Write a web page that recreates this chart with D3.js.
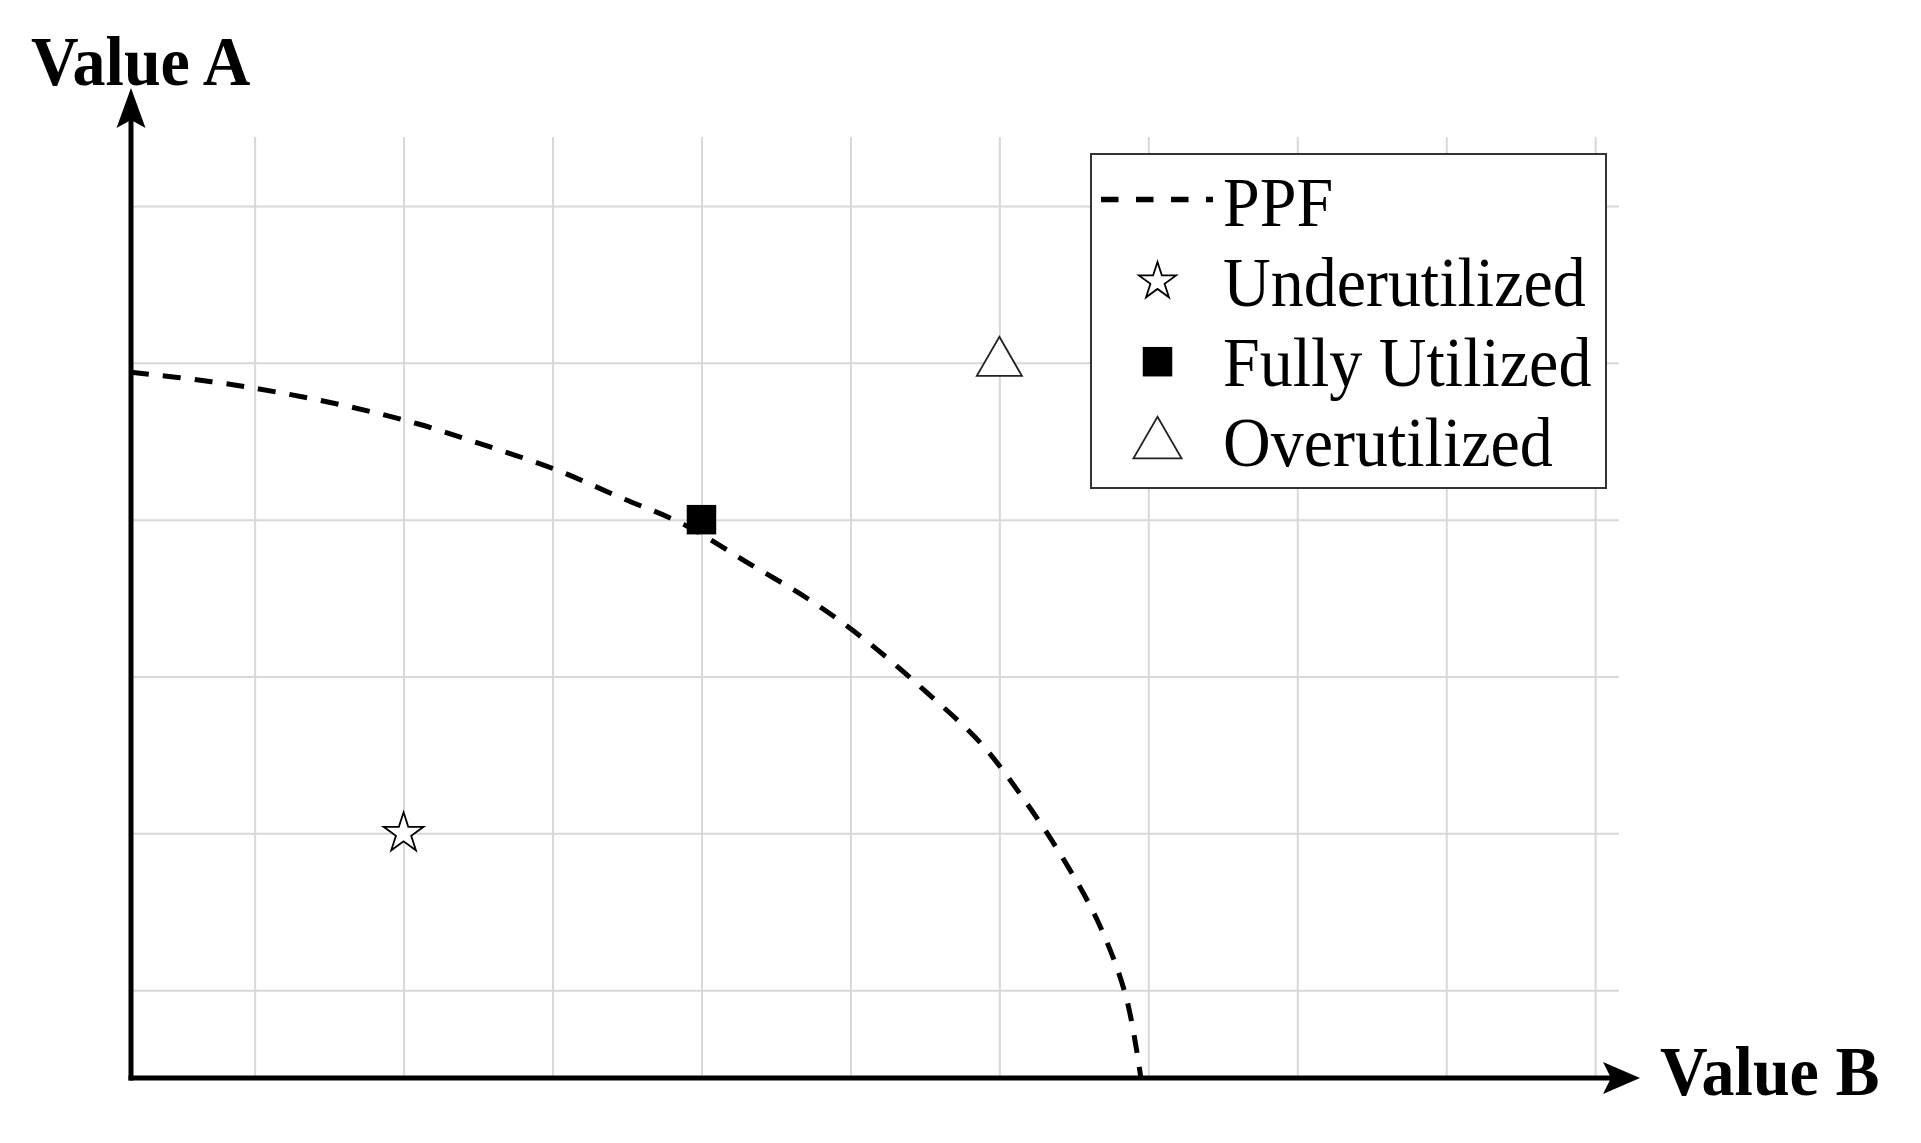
<html>

<head>
  <meta charset="utf-8">
  <script src="https://cdn.jsdelivr.net/npm/d3@7/dist/d3.min.js"></script>
  <title> PPF chart </title>
  <style>
  body {
    margin: 0;
    background-color: #fff;
  }
  svg {
    display: block;
    background-color: #fff;
  }
  text {
    font-family: "Liberation Serif", "Times New Roman", serif;
    fill: #000;
  }
  </style>
</head>

<body>
  <div id="chart"></div>
  <script>

  // background grid lines (grid units)
  var xTicks = [1, 2, 3, 4, 5, 6, 7, 8, 9, 10];
  var yTicks = [1, 2, 3, 4, 5, 6];

  // PPF curve (Value B, Value A)
  var ppfB = [0.17, 0.71, 1.17, 1.64, 2.10, 2.56, 3.02, 3.46, 3.88, 4.32, 4.74, 5.13, 5.51, 5.87, 6.17, 6.44, 6.67, 6.85, 6.95];
  var ppfA = [4.94, 4.88, 4.81, 4.72, 4.61, 4.47, 4.32, 4.14, 3.97, 3.72, 3.48, 3.21, 2.90, 2.58, 2.21, 1.82, 1.42, 0.96, 0.44];

  // the three marked points
  var pointNames = ["Underutilized", "Fully Utilized", "Overutilized"];
  var pointB = [2, 4, 6];
  var pointA = [2, 4, 5];

  var legendLabels = ["PPF", "Underutilized", "Fully Utilized", "Overutilized"];
  var axisLabels = ["Value A", "Value B"];

  var width = 1921,
    height = 1143;

  var svg = d3.select("#chart").append("svg").attr("width", width).attr("height", height);

  var x = d3.scaleLinear().domain([0.17, 10.16]).range([131, 1619]);
  var y = d3.scaleLinear().domain([0.44, 6.44]).range([1078, 137]);

  var x0 = x(0.17), y0 = y(0.44);
  var gridRight = x(10.16), gridTop = y(6.44);

  // grid
  var gx = svg.append("g").attr("class", "grid")
    .attr("transform", "translate(0," + y0 + ")")
    .call(d3.axisBottom(x).tickValues(xTicks).tickSize(-(y0 - gridTop)).tickFormat(""));
  var gy = svg.append("g").attr("class", "grid")
    .attr("transform", "translate(" + x0 + ",0)")
    .call(d3.axisLeft(y).tickValues(yTicks).tickSize(-(gridRight - x0)).tickFormat(""));
  svg.selectAll(".grid .domain").remove();
  svg.selectAll(".grid line").attr("stroke", "#d8d8d8").attr("stroke-width", 2);

  // PPF curve
  var ppf = ppfB.map(function(b, i) { return [b, ppfA[i]]; });
  var line = d3.line()
    .x(function(d) { return x(d[0]); })
    .y(function(d) { return y(d[1]); })
    .curve(d3.curveCatmullRom.alpha(0.5));

  svg.append("path").datum(ppf)
    .attr("d", line)
    .attr("fill", "none")
    .attr("stroke", "#000")
    .attr("stroke-width", 5)
    .attr("stroke-dasharray", "18,14");

  // axes with arrow heads
  var xTip = gridRight + 21, yTip = gridTop - 49;
  svg.append("line")
    .attr("x1", x0).attr("y1", y0 + 2.5).attr("x2", x0).attr("y2", yTip + 20)
    .attr("stroke", "#000").attr("stroke-width", 5);
  svg.append("line")
    .attr("x1", x0 - 2.5).attr("y1", y0).attr("x2", xTip - 20).attr("y2", y0)
    .attr("stroke", "#000").attr("stroke-width", 5);

  svg.append("path")
    .attr("d", "M" + x0 + "," + yTip + " L" + (x0 - 14.5) + "," + (yTip + 40) +
      " L" + x0 + "," + (yTip + 32) + " L" + (x0 + 14.5) + "," + (yTip + 40) + "Z")
    .attr("fill", "#000");
  svg.append("path")
    .attr("d", "M" + xTip + "," + y0 + " L" + (xTip - 37) + "," + (y0 - 16) +
      " L" + (xTip - 29) + "," + y0 + " L" + (xTip - 37) + "," + (y0 + 16) + "Z")
    .attr("fill", "#000");

  // axis titles
  svg.append("text")
    .attr("transform", "translate(31,85) scale(1,1.07)")
    .attr("font-size", 66).attr("font-weight", "bold")
    .text(axisLabels[0]);
  svg.append("text")
    .attr("transform", "translate(" + (xTip + 20) + "," + (y0 + 17) + ") scale(1,1.07)")
    .attr("font-size", 66).attr("font-weight", "bold")
    .text(axisLabels[1]);

  // point markers
  var symbols = [d3.symbolStar, d3.symbolSquare, d3.symbolTriangle];
  var plotSizes = [495, 870, 880];
  var legendSizes = [427, 870, 1000];
  var fills = ["#fff", "#000", "#fff"];
  var strokes = ["#000", "none", "#222"];

  svg.selectAll(".pt").data(pointNames).enter()
    .append("path")
    .attr("class", "pt")
    .attr("transform", function(d, i) { return "translate(" + x(pointB[i]) + "," + y(pointA[i]) + ")"; })
    .attr("d", function(d, i) { return d3.symbol(symbols[i], plotSizes[i])(); })
    .attr("fill", function(d, i) { return fills[i]; })
    .attr("stroke", function(d, i) { return strokes[i]; })
    .attr("stroke-width", 1.8)
    .attr("stroke-linejoin", "miter");

  // legend
  var legend = svg.append("g").attr("class", "legend");
  legend.append("rect")
    .attr("x", 1091).attr("y", 154).attr("width", 515).attr("height", 334)
    .attr("fill", "#fff").attr("stroke", "#333").attr("stroke-width", 2);

  var rowY = function(i) { return 226 + 80 * i; };

  legend.append("line")
    .attr("x1", 1101).attr("x2", 1213)
    .attr("y1", rowY(0) - 26.5).attr("y2", rowY(0) - 26.5)
    .attr("stroke", "#000").attr("stroke-width", 5.5)
    .attr("stroke-dasharray", "17.5,17.5");

  var symOffset = [-24.5, -24.3, -21.5];
  legend.selectAll(".lsym").data(pointNames).enter()
    .append("path")
    .attr("class", "lsym")
    .attr("transform", function(d, i) { return "translate(1157.5," + (rowY(i + 1) + symOffset[i]) + ")"; })
    .attr("d", function(d, i) { return d3.symbol(symbols[i], legendSizes[i])(); })
    .attr("fill", function(d, i) { return fills[i]; })
    .attr("stroke", function(d, i) { return strokes[i]; })
    .attr("stroke-width", 1.8);

  legend.selectAll(".ltext").data(legendLabels).enter()
    .append("text")
    .attr("class", "ltext")
    .attr("transform", function(d, i) { return "translate(1223," + rowY(i) + ") scale(1,1.07)"; })
    .attr("font-size", 66)
    .text(function(d) { return d; });

  </script>
</body>

</html>
